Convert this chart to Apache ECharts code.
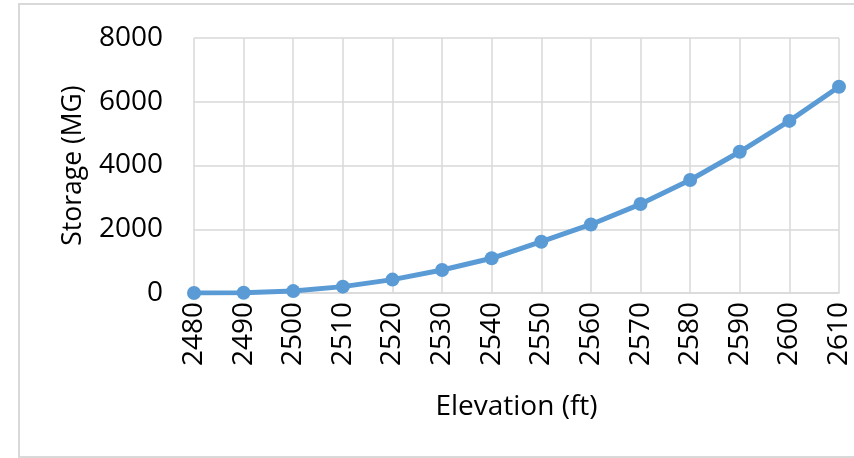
<!DOCTYPE html>
<html>
<head>
<meta charset="utf-8">
<script src="https://cdn.jsdelivr.net/npm/echarts@6/dist/echarts.min.js"></script>
<style>
  html, body { margin: 0; padding: 0; background: #fff; }
  #chart { width: 854px; height: 458px; }
</style>
</head>
<body>
<div id="chart"></div>
<script>
// Elevation–storage curve for the reservoir
const elevations = ['2480', '2490', '2500', '2510', '2520', '2530', '2540',
                    '2550', '2560', '2570', '2580', '2590', '2600', '2610'];
const storage = [0, 10, 60, 200, 420, 720, 1090, 1610, 2150, 2790, 3545, 4430, 5400, 6470];
const yTicks = { min: 0, max: 8000, interval: 2000 };

const FONT = '"Open Sans"';
const GRID_COLOR = '#D9D9D9';

const chart = echarts.init(document.getElementById('chart'), null, { renderer: 'canvas' });
chart.setOption({
  backgroundColor: '#ffffff',
  animation: false,
  textStyle: { fontFamily: FONT },
  graphic: [{
    type: 'rect',
    shape: { x: 19, y: 4, width: 900, height: 453 },
    style: { fill: 'none', stroke: GRID_COLOR, lineWidth: 2 },
    silent: true,
    z: -1
  }],
  grid: { left: 194, top: 38, right: 15, bottom: 165 },
  xAxis: {
    type: 'category',
    data: elevations,
    boundaryGap: false,
    name: 'Elevation (ft)',
    nameLocation: 'middle',
    nameGap: 100,
    nameTextStyle: { fontFamily: FONT, fontSize: 28, color: '#000' },
    axisLine: { lineStyle: { color: GRID_COLOR, width: 1.5 } },
    axisTick: { show: false },
    axisLabel: { rotate: 90, fontFamily: FONT, fontSize: 28, color: '#000', margin: 9, interval: 0 },
    splitLine: { show: true, lineStyle: { color: GRID_COLOR, width: 1.5 } }
  },
  yAxis: {
    type: 'value',
    min: yTicks.min,
    max: yTicks.max,
    interval: yTicks.interval,
    name: 'Storage (MG)',
    nameLocation: 'middle',
    nameGap: 107,
    nameTextStyle: { fontFamily: FONT, fontSize: 26.5, color: '#000' },
    axisLine: { show: false },
    axisTick: { show: false },
    axisLabel: { fontFamily: FONT, fontSize: 28, color: '#000', margin: 31, formatter: v => String(v) },
    splitLine: { show: true, lineStyle: { color: GRID_COLOR, width: 1.5 } }
  },
  series: [{
    type: 'line',
    data: storage,
    symbol: 'circle',
    symbolSize: 14,
    lineStyle: { color: '#5B9BD5', width: 5 },
    itemStyle: { color: '#5B9BD5' },
    z: 3
  }]
});
</script>
</body>
</html>
